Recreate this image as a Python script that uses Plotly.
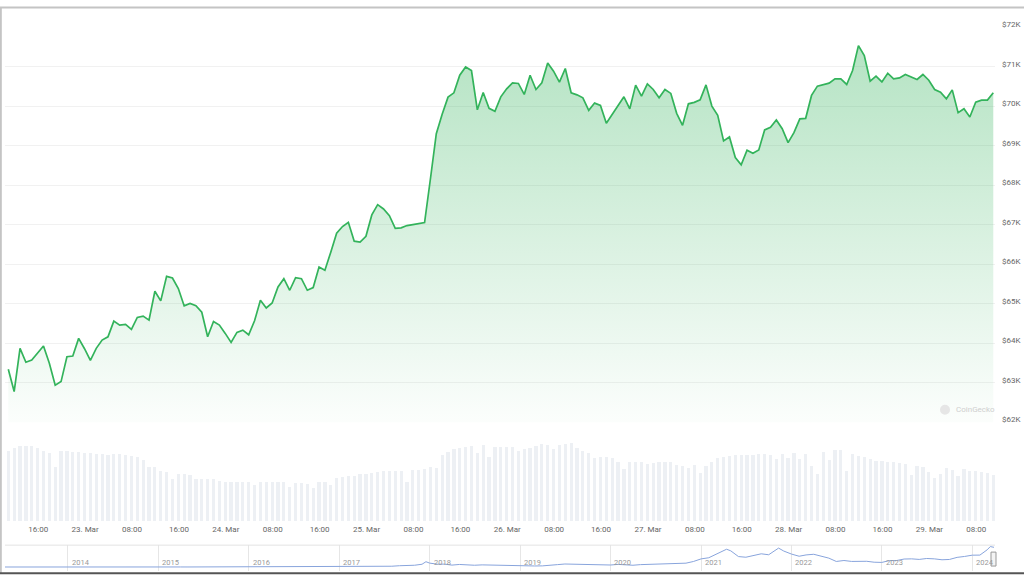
import plotly.graph_objects as go
import pandas as pd

# ---------------- data ----------------
start_time = "2024-03-22 10:54"   # first hourly sample

prices = [63345, 62781, 63875, 63522, 63580, 63749, 63933, 63497, 62942, 63033,
          63663, 63681, 64127, 63865, 63572, 63875, 64084, 64167, 64563, 64462,
          64480, 64354, 64656, 64689, 64588, 65319, 65075, 65697, 65655, 65387,
          64949, 65009, 64954, 64790, 64167, 64556, 64462, 64253, 64026, 64278,
          64336, 64218, 64571, 65092, 64898, 65024, 65428, 65639, 65345, 65665,
          65639, 65345, 65413, 65932, 65849, 66310, 66789, 66958, 67066, 66587,
          66562, 66713, 67253, 67513, 67404, 67235, 66915, 66925, 66983, 67008,
          67034, 67059, 68168, 69310, 69799, 70235, 70344, 70790, 70999, 70908,
          69915, 70354, 69950, 69875, 70243, 70445, 70596, 70581, 70303, 70790,
          70429, 70596, 71100, 70891, 70613, 70959, 70344, 70293, 70218, 69900,
          70084, 70026, 69572, 69799, 70026, 70243, 69940, 70538, 70261, 70571,
          70429, 70218, 70429, 70329, 69824, 69522, 70066, 70102, 70167, 70545,
          70008, 69774, 69126, 69227, 68705, 68521, 68892, 68816, 68899, 69403,
          69471, 69655, 69436, 69083, 69335, 69686, 69698, 70278, 70513, 70555,
          70588, 70697, 70697, 70555, 70908, 71539, 71287, 70639, 70765, 70621,
          70840, 70697, 70722, 70808, 70739, 70682, 70808, 70664, 70429, 70361,
          70192, 70419, 69840, 69940, 69731, 70109, 70160, 70160, 70344]

volumes_bn = [42.6, 44.0, 45.6, 45.6, 45.4, 44.0, 42.6, 41.0, 33.0, 42.4,
              42.4, 41.8, 41.8, 41.0, 41.0, 40.6, 40.6, 40.2, 40.6, 40.6,
              40.2, 39.4, 38.6, 37.0, 32.6, 32.6, 30.6, 29.6, 25.6, 28.6,
              28.6, 28.0, 25.4, 25.4, 25.4, 25.4, 24.4, 24.0, 23.6, 23.6,
              23.6, 23.6, 21.6, 23.6, 23.6, 23.6, 23.6, 24.0, 20.6, 23.0,
              23.0, 22.6, 20.0, 24.0, 24.0, 22.0, 26.0, 27.0, 27.6, 27.6,
              28.6, 28.6, 29.0, 29.6, 30.2, 30.6, 30.6, 30.6, 24.0, 31.0,
              31.0, 31.4, 32.6, 32.0, 40.0, 41.6, 43.4, 44.0, 45.0, 45.6,
              41.0, 46.0, 39.0, 45.0, 45.0, 45.0, 45.0, 42.6, 43.6, 44.4,
              45.6, 46.6, 46.0, 43.4, 46.0, 46.6, 47.0, 44.0, 42.4, 41.0,
              38.4, 39.0, 39.0, 38.0, 35.6, 31.4, 35.6, 35.6, 35.6, 34.6,
              35.0, 35.6, 35.6, 35.6, 34.0, 33.6, 32.4, 34.0, 29.0, 33.6,
              35.6, 38.0, 39.0, 39.4, 40.0, 40.0, 40.0, 39.8, 40.4, 40.4,
              40.2, 37.4, 40.4, 38.0, 41.0, 37.6, 40.4, 33.4, 28.4, 41.6,
              37.0, 43.0, 43.0, 30.4, 40.4, 39.4, 38.6, 37.6, 36.4, 36.4,
              36.0, 35.6, 35.4, 34.6, 28.0, 33.4, 32.6, 30.0, 26.0, 28.6,
              32.0, 31.0, 27.4, 31.4, 30.4, 30.4, 30.0, 29.4, 28.0]

price_tick_vals = [62000, 63000, 64000, 65000, 66000, 67000, 68000, 69000, 70000, 71000, 72000]
price_tick_text = ["$62K", "$63K", "$64K", "$65K", "$66K", "$67K", "$68K", "$69K", "$70K", "$71K", "$72K"]

time_tick_vals = ["2024-03-22 16:00",
                  "2024-03-23 00:00", "2024-03-23 08:00", "2024-03-23 16:00",
                  "2024-03-24 00:00", "2024-03-24 08:00", "2024-03-24 16:00",
                  "2024-03-25 00:00", "2024-03-25 08:00", "2024-03-25 16:00",
                  "2024-03-26 00:00", "2024-03-26 08:00", "2024-03-26 16:00",
                  "2024-03-27 00:00", "2024-03-27 08:00", "2024-03-27 16:00",
                  "2024-03-28 00:00", "2024-03-28 08:00", "2024-03-28 16:00",
                  "2024-03-29 00:00", "2024-03-29 08:00"]
time_tick_text = ["16:00",
                  "23. Mar", "08:00", "16:00",
                  "24. Mar", "08:00", "16:00",
                  "25. Mar", "08:00", "16:00",
                  "26. Mar", "08:00", "16:00",
                  "27. Mar", "08:00", "16:00",
                  "28. Mar", "08:00", "16:00",
                  "29. Mar", "08:00"]

# navigator: long-term price history (thousand USD), month starts May 2013 .. Mar 2024
nav_monthly_k = [0.14, 0.13, 0.10, 0.10, 0.13, 0.13, 0.20, 1.00,
                 0.75, 0.85, 0.55, 0.45, 0.45, 0.63, 0.64, 0.58, 0.48, 0.39, 0.34, 0.38,
                 0.32, 0.22, 0.25, 0.25, 0.24, 0.23, 0.26, 0.28, 0.23, 0.24, 0.31, 0.38,
                 0.43, 0.37, 0.44, 0.42, 0.45, 0.53, 0.67, 0.62, 0.57, 0.61, 0.70, 0.74,
                 0.96, 0.97, 1.19, 1.08, 1.35, 2.3, 2.5, 2.9, 4.7, 4.3, 6.4, 9.9,
                 14.0, 10.2, 10.4, 6.9, 9.2, 7.5, 6.4, 7.7, 7.0, 6.6, 6.3, 4.0,
                 3.7, 3.4, 3.8, 4.1, 5.3, 8.6, 10.8, 10.1, 9.6, 8.3, 9.2, 7.6,
                 7.2, 9.4, 8.6, 6.4, 8.6, 9.5, 9.1, 11.3, 11.6, 10.8, 13.8, 19.7,
                 29.0, 33.1, 45.1, 58.9, 57.7, 37.3, 35.0, 41.5, 47.2, 43.8, 61.3, 57.0,
                 46.3, 38.5, 43.2, 45.5, 37.7, 31.8, 19.9, 23.3, 20.0, 19.4, 20.5, 17.2,
                 16.5, 23.1, 23.1, 28.5, 29.2, 27.2, 30.5, 29.2, 25.9, 27.0, 34.5, 37.7,
                 42.3, 42.6, 61.2]
nav_extra_dates = ["2013-04-22", "2017-12-17", "2021-04-14", "2021-11-10", "2024-03-14", "2024-03-29"]
nav_extra_k = [0.12, 19.0, 63.5, 67.5, 73.0, 70.3]

year_ticks = ["2014-01-01", "2015-01-01", "2016-01-01", "2017-01-01", "2018-01-01", "2019-01-01",
              "2020-01-01", "2021-01-01", "2022-01-01", "2023-01-01", "2024-01-01"]
year_labels = ["2014", "2015", "2016", "2017", "2018", "2019", "2020", "2021", "2022", "2023", "2024"]

# ---------------- build ----------------
t0 = pd.Timestamp(start_time)
times = [t0 + pd.Timedelta(hours=i) for i in range(len(prices))]

nav_month_dates = list(pd.date_range("2013-05-01", periods=len(nav_monthly_k), freq="MS"))
nav_df = pd.DataFrame({"d": nav_month_dates + [pd.Timestamp(d) for d in nav_extra_dates],
                       "v": nav_monthly_k + nav_extra_k}).sort_values("d")

W, H = 1024, 576
# vertical calibration of the rendered viewport (observed offset / scale)
V_OFF, V_SCALE = 5.5, 0.9887

def px(x):
    return x / W

def py(y):
    v = (y - V_OFF) / V_SCALE
    return min(1.0, max(0.0, 1 - v / H))

PX_PER_H = 5.863
x_left = t0 - pd.Timedelta(hours=(8.3 - 5) / PX_PER_H)
x_right = t0 + pd.Timedelta(hours=(995 - 8.3) / PX_PER_H)

GREEN = "#33b35b"
FONT = "Roboto, 'Open Sans', sans-serif"

fig = go.Figure()

fig.add_trace(go.Scatter(
    x=times, y=prices, mode="lines",
    line=dict(color=GREEN, width=1.7),
    fill="tozeroy",
    fillgradient=dict(type="vertical", start=62000, stop=72000,
                      colorscale=[[0, "rgba(51,179,91,0.02)"], [1, "rgba(51,179,91,0.38)"]]),
    xaxis="x", yaxis="y", hoverinfo="skip", showlegend=False))

fig.add_trace(go.Bar(
    x=times, y=volumes_bn, marker=dict(color="#edf0f4", line=dict(width=0)),
    width=0.55 * 3600 * 1000,
    xaxis="x2", yaxis="y2", hoverinfo="skip", showlegend=False))

fig.add_trace(go.Scatter(
    x=nav_df["d"], y=nav_df["v"], mode="lines",
    line=dict(color="#88a4dc", width=1),
    xaxis="x3", yaxis="y3", hoverinfo="skip", showlegend=False))

fig.update_layout(
    autosize=True,
    margin=dict(l=0, r=0, t=0, b=0),
    paper_bgcolor="white", plot_bgcolor="white",
    font=dict(family=FONT, color="#666"),
    bargap=0,
    xaxis=dict(domain=[px(5), px(995)], range=[x_left, x_right], anchor="y",
               showgrid=False, zeroline=False, showticklabels=False, showline=False),
    yaxis=dict(domain=[py(422.7), py(26)], range=[62000, 72000], anchor="x", side="right",
               tickvals=price_tick_vals, ticktext=price_tick_text,
               tickfont=dict(size=8, color="#666"),
               gridcolor="#f1f1f1", gridwidth=1, zeroline=False, showline=False,
               ticklabelshift=-3, ticklabelstandoff=6),
    xaxis2=dict(domain=[px(5), px(995)], range=[x_left, x_right], anchor="y2",
                matches="x", showgrid=False, zeroline=False, showline=False,
                tickvals=time_tick_vals, ticktext=time_tick_text, ticks="",
                tickfont=dict(size=8, color="#666"), ticklabelstandoff=2),
    yaxis2=dict(domain=[py(521.7), py(440)], range=[0, 49], anchor="x2", visible=False),
    xaxis3=dict(domain=[px(5), px(995)], range=["2013-04-22", "2024-04-02"], anchor="y3",
                tickvals=year_ticks, showticklabels=False, ticks="",
                gridcolor="#e6e6e6", gridwidth=1, zeroline=False, showline=False),
    yaxis3=dict(domain=[py(572), py(546)], range=[-14.2, 78.1], anchor="x3", visible=False),
)

# navigator year labels
for d, lab in zip(year_ticks, year_labels):
    fig.add_annotation(x=d, y=py(563), xref="x3", yref="paper", text=lab, showarrow=False,
                       xanchor="left", yanchor="middle", xshift=2,
                       font=dict(size=7.5, color="#999"))

# watermark
fig.add_shape(type="circle", xref="paper", yref="paper",
              x0=px(940), x1=px(950), y0=py(415), y1=py(405),
              fillcolor="#e6e6e6", line=dict(width=0))
fig.add_annotation(x=px(954), y=py(410), xref="paper", yref="paper", text="CoinGecko",
                   showarrow=False, xanchor="left", yanchor="middle",
                   font=dict(size=8, color="#cfcfcf"))

# navigator top line and handle
fig.add_shape(type="line", xref="paper", yref="paper", x0=px(5), x1=px(995), y0=py(546), y1=py(546),
              line=dict(color="#e3e3e3", width=1))
fig.add_shape(type="rect", xref="paper", yref="paper", x0=px(991), x1=px(996), y0=py(567), y1=py(553),
              fillcolor="#f4f4f4", line=dict(color="#999", width=1))

# frame
fig.add_shape(type="line", xref="paper", yref="paper", x0=0.0008, x1=0.0008, y0=0, y1=1,
              line=dict(color="#c4c4c4", width=2))
fig.add_shape(type="line", xref="paper", yref="paper", x0=0, x1=1, y0=0.9992, y1=0.9992,
              line=dict(color="#c4c4c4", width=2))
fig.add_shape(type="line", xref="paper", yref="paper", x0=0, x1=1, y0=0.0015, y1=0.0015,
              line=dict(color="#555", width=2))

fig.write_html(
    "out.html", config={"displayModeBar": False, "responsive": True},
    post_script=("document.documentElement.style.overflow='hidden';"
                 "document.body.style.margin='0';document.body.style.overflow='hidden';"
                 "var gd=document.getElementById('{plot_id}');"
                 "gd.style.position='fixed';gd.style.top='0';gd.style.left='0';"
                 "gd.style.width='100vw';gd.style.height='100vh';"
                 "Plotly.Plots.resize(gd);"))
